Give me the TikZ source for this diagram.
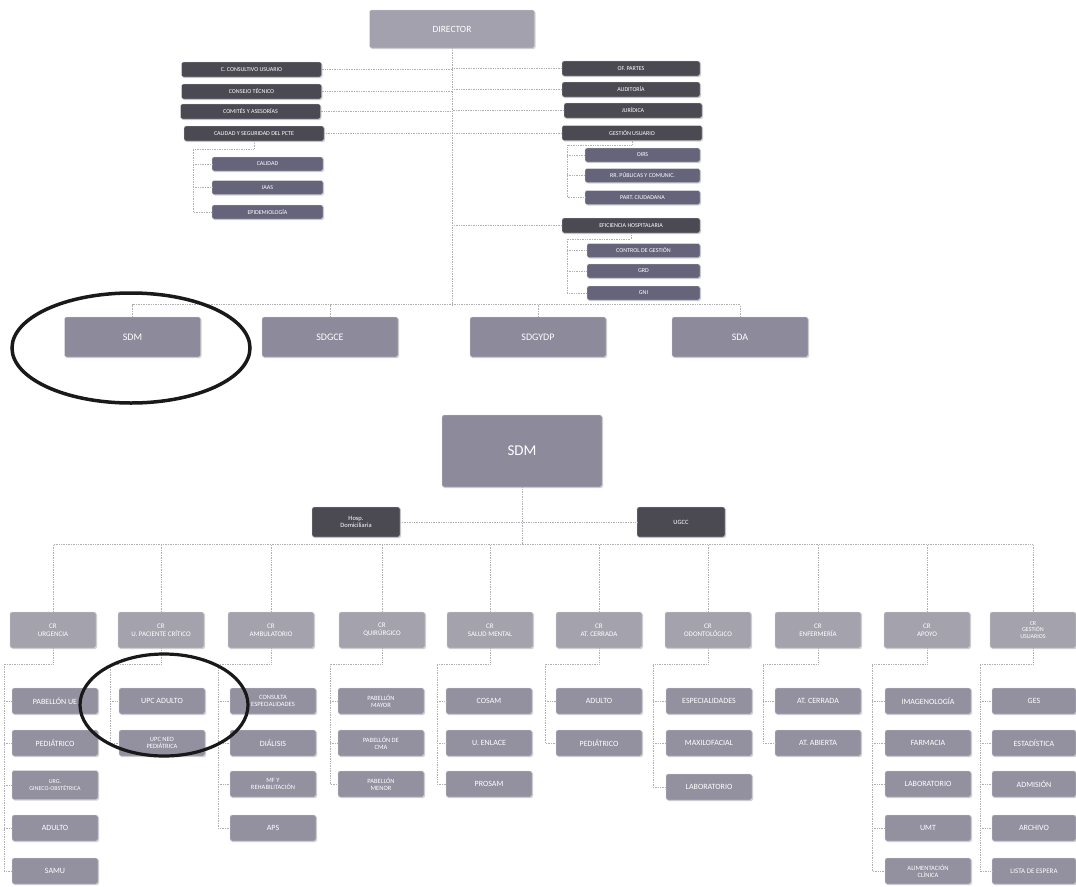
\documentclass[tikz,border=0pt]{standalone}
\usepackage{fontspec}
\setmainfont{Carlito}
\usetikzlibrary{shadows}
\definecolor{cdark}{HTML}{4B4A53}
\definecolor{csub}{HTML}{66647A}
\definecolor{cdir}{HTML}{A3A1AD}
\definecolor{cmid}{HTML}{8D8A9B}
\definecolor{ccr}{HTML}{A4A3AD}
\definecolor{cch}{HTML}{9391A0}
\definecolor{cline}{HTML}{B0B0B4}
\tikzset{
  bx/.style={rectangle, rounded corners=2pt, text=white, align=center, inner sep=1pt,
    draw=white!75!gray, line width=0.4pt,
    drop shadow={shadow xshift=1pt, shadow yshift=-1pt, opacity=0.35}},
  topbox/.style={bx, fill=cdark, minimum width=140pt, minimum height=15pt, font=\fontsize{6}{6.5}\selectfont},
  subbox/.style={bx, fill=csub, minimum width=114pt, minimum height=14pt, font=\fontsize{6}{6.5}\selectfont},
  dirbox/.style={bx, fill=cdir, minimum width=165pt, minimum height=38pt, font=\fontsize{9.5}{10}\selectfont},
  midbox/.style={bx, fill=cmid, minimum width=136pt, minimum height=40pt, font=\fontsize{10}{11}\selectfont},
  bigbox/.style={bx, fill=cmid, minimum width=160pt, minimum height=72pt, font=\fontsize{15}{16}\selectfont},
  hosbox/.style={bx, fill=cdark, minimum width=88pt, minimum height=30pt, font=\fontsize{6.5}{7}\selectfont},
  crbox/.style={bx, fill=ccr, minimum width=86pt, minimum height=36pt, font=\fontsize{7}{8}\selectfont},
  chbox/.style={bx, fill=cch, minimum width=86pt, minimum height=26pt, font=\fontsize{8}{8}\selectfont},
  conn/.style={draw=cline, line width=0.7pt, densely dotted},
  ring/.style={draw=black!90, line width=3.5pt}
}
\newcommand{\mkch}[4]{\node[chbox] (#1) at (#2,#3) {#4};}
\begin{document}
\begin{tikzpicture}[x=1pt,y=-1pt]
\useasboundingbox (0,0) rectangle (1076,886);
\fill[white] (0,0) rectangle (1076,886);

% ---------- top chart ----------
\node[dirbox] (dir) at (452,29) {DIRECTOR};

\node[topbox] (l1) at (251.5,69.5) {C. CONSULTIVO USUARIO};
\node[topbox] (l2) at (251.5,91.5) {CONSEJO TÉCNICO};
\node[topbox] (l3) at (250.5,111.5) {COMITÉS Y ASESORÍAS};
\node[topbox] (l4) at (254,133.5) {CALIDAD Y SEGURIDAD DEL PCTE};
\node[subbox, minimum width=111pt] (l5) at (267.5,164) {CALIDAD};
\node[subbox, minimum width=111pt] (l6) at (267.5,187.5) {IAAS};
\node[subbox, minimum width=111pt] (l7) at (267.5,212) {EPIDEMIOLOGÍA};

\node[topbox, minimum width=138pt] (r1) at (631,68.5) {OF. PARTES};
\node[topbox, minimum width=138pt] (r2) at (631,89.5) {AUDITORÍA};
\node[topbox, minimum width=138pt] (r3) at (633,110.5) {JURÍDICA};
\node[topbox, minimum width=140pt] (r4) at (632,133) {GESTIÓN USUARIO};
\node[subbox, minimum width=115pt] (r5) at (642.5,155) {OIRS};
\node[subbox, minimum width=115pt] (r6) at (642.5,175.5) {RR. PÚBLICAS Y COMUNIC.};
\node[subbox, minimum width=115pt] (r7) at (642.5,197.5) {PART. CIUDADANA};
\node[topbox, minimum width=138pt] (r8) at (631,225.5) {EFICIENCIA HOSPITALARIA};
\node[subbox, minimum width=113pt] (r9) at (643.5,250.5) {CONTROL DE GESTIÓN};
\node[subbox, minimum width=113pt] (r10) at (643.5,271) {GRD};
\node[subbox, minimum width=113pt] (r11) at (643.5,293) {GNI};

\node[midbox] (sdm) at (132.5,337) {SDM};
\node[midbox] (sdgce) at (330,337) {SDGCE};
\node[midbox] (sdgydp) at (538,337) {SDGYDP};
\node[midbox] (sda) at (740,337) {SDA};

\coordinate (hub) at (452,305);
\draw[conn] (dir.south) -- (hub);
\foreach \n in {l1,l2,l3,l4}{\draw[conn] (\n.east) -- (\n.east -| hub);}
\foreach \n in {r1,r2,r3,r4,r8}{\draw[conn] (\n.west) -- (\n.west -| hub);}
\draw[conn] (sdm.north) -- ++(0,-12) -| (sda.north);
\draw[conn] (sdgce.north) -- ++(0,-12);
\draw[conn] (sdgydp.north) -- ++(0,-12);
\coordinate (lj) at (193,149);
\draw[conn] (l4.south) |- (lj) -- (lj |- l7.west) -- (l7.west);
\foreach \n in {l5,l6}{\draw[conn] (lj |- \n.west) -- (\n.west);}
\coordinate (rj) at (567,145);
\draw[conn] (r4.south) |- (rj) -- (rj |- r7.west) -- (r7.west);
\foreach \n in {r5,r6}{\draw[conn] (rj |- \n.west) -- (\n.west);}
\coordinate (rk) at (567,239);
\draw[conn] (r8.south) |- (rk) -- (rk |- r11.west) -- (r11.west);
\foreach \n in {r9,r10}{\draw[conn] (rk |- \n.west) -- (\n.west);}

\draw[ring] (131,348) ellipse [x radius=119pt, y radius=55pt];

% ---------- bottom chart ----------
\node[bigbox] (sdm2) at (522,451) {SDM};
\node[hosbox] (hosp) at (356,522) {Hosp.\\Domiciliaria};
\node[hosbox] (ugcc) at (681,522) {UGCC};
\coordinate (bh) at (522,545);
\draw[conn] (sdm2.south) -- (bh);
\draw[conn] (hosp.east) -- (ugcc.west);

\node[crbox] (cr1) at (53,630) {CR\\URGENCIA};
\node[crbox] (cr2) at (161,630) {CR\\U. PACIENTE CRÍTICO};
\node[crbox] (cr3) at (271,630) {CR\\AMBULATORIO};
\node[crbox] (cr4) at (382,630) {CR\\QUIRÚRGICO};
\node[crbox] (cr5) at (490,630) {CR\\SALUD MENTAL};
\node[crbox] (cr6) at (599,630) {CR\\AT. CERRADA};
\node[crbox] (cr7) at (708,630) {CR\\ODONTOLÓGICO};
\node[crbox] (cr8) at (818,630) {CR\\ENFERMERÍA};
\node[crbox] (cr9) at (927,630) {CR\\APOYO};
\node[crbox, font=\fontsize{6}{6.5}\selectfont] (cr10) at (1033,630) {CR\\GESTIÓN\\USUARIOS};

\draw[conn] (cr1.north) -- ++(0,-67) -| (cr10.north);
\foreach \n in {cr2,cr3,cr4,cr5,cr6,cr7,cr8,cr9}{\draw[conn] (\n.north) -- ++(0,-67);}

% column 1
\mkch{a1}{55}{701}{PABELLÓN UE}
\mkch{a2}{55}{743}{PEDIÁTRICO}
\node[chbox, font=\fontsize{6}{6.5}\selectfont, minimum height=29pt] (a3) at (55,785) {URG.\\GINECO-OBSTÉTRICA};
\mkch{a4}{55}{828}{ADULTO}
\mkch{a5}{55}{871}{SAMU}
% column 2
\mkch{b1}{162}{701}{UPC ADULTO}
\node[chbox, font=\fontsize{6.5}{7}\selectfont] (b2) at (162,743) {UPC NEO\\PEDIÁTRICA};
% column 3
\node[chbox, font=\fontsize{6.5}{7}\selectfont] (c1) at (273,701) {CONSULTA\\ESPECIALIDADES};
\mkch{c2}{273}{743}{DIÁLISIS}
\node[chbox, font=\fontsize{6.5}{7}\selectfont] (c3) at (273,784) {MF Y\\REHABILITACIÓN};
\mkch{c4}{273}{828}{APS}
% column 4
\node[chbox, font=\fontsize{6.5}{7}\selectfont] (d1) at (381,701) {PABELLÓN\\MAYOR};
\node[chbox, font=\fontsize{6.5}{7}\selectfont] (d2) at (381,743) {PABELLÓN DE\\CMA};
\node[chbox, font=\fontsize{6.5}{7}\selectfont] (d3) at (381,784) {PABELLÓN\\MENOR};
% column 5
\mkch{e1}{489}{701}{COSAM}
\mkch{e2}{489}{743}{U. ENLACE}
\mkch{e3}{489}{784}{PROSAM}
% column 6
\mkch{f1}{599}{701}{ADULTO}
\mkch{f2}{599}{743}{PEDIÁTRICO}
% column 7
\mkch{g1}{709}{701}{ESPECIALIDADES}
\mkch{g2}{709}{743}{MAXILOFACIAL}
\mkch{g3}{709}{787}{LABORATORIO}
% column 8
\mkch{h1}{818}{701}{AT. CERRADA}
\mkch{h2}{818}{743}{AT. ABIERTA}
% column 9
\mkch{i1}{928}{701}{IMAGENOLOGÍA}
\mkch{i2}{928}{743}{FARMACIA}
\mkch{i3}{928}{784}{LABORATORIO}
\mkch{i4}{928}{828}{UMT}
\node[chbox, font=\fontsize{6.5}{7}\selectfont] (i5) at (928,871) {ALIMENTACIÓN\\CLÍNICA};
% column 10
\node[chbox, minimum width=84pt] (k1) at (1034,701) {GES};
\node[chbox, minimum width=84pt] (k2) at (1034,743) {ESTADÍSTICA};
\node[chbox, minimum width=84pt] (k3) at (1034,784) {ADMISIÓN};
\node[chbox, minimum width=84pt] (k4) at (1034,828) {ARCHIVO};
\node[chbox, minimum width=84pt, font=\fontsize{7}{7}\selectfont] (k5) at (1034,871) {LISTA DE ESPERA};

% brackets
\newcommand{\brk}[4]{%
  \coordinate (j#1) at (#2,664);
  \draw[conn] (#1.south) |- (j#1) -- (j#1 |- #3.west) -- (#3.west);
  \foreach \m in {#4}{\draw[conn] (j#1 |- \m.west) -- (\m.west);}}
\brk{cr1}{4}{a5}{a1,a2,a3,a4}
\brk{cr2}{110}{b2}{b1}
\brk{cr3}{218}{c4}{c1,c2,c3}
\brk{cr4}{330}{d3}{d1,d2}
\brk{cr5}{437}{e3}{e1,e2}
\brk{cr6}{545}{f2}{f1}
\brk{cr7}{653}{g3}{g1,g2}
\brk{cr8}{763}{h2}{h1}
\brk{cr9}{872}{i5}{i1,i2,i3,i4}
\brk{cr10}{980}{k5}{k1,k2,k3,k4}

\draw[ring, line width=3.2pt] (164,705) ellipse [x radius=84pt, y radius=51pt];
\end{tikzpicture}
\end{document}
